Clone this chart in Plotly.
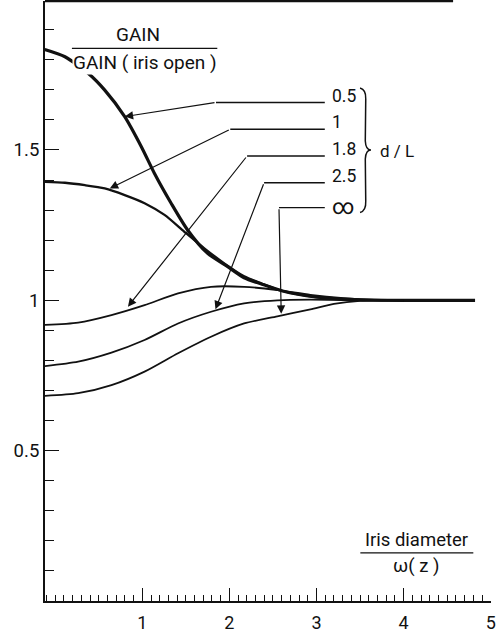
import plotly.graph_objects as go

# ---- data ----
d_over_L = ["0.5", "1", "1.8", "2.5", "∞"]

x_05 = [-0.12, 0.112, 0.378, 0.569, 0.798, 0.989, 1.14, 1.331, 1.52, 1.75, 1.98, 2.169, 2.36, 2.61, 2.99, 3.3, 3.6, 4.0, 4.82]
y_05 = [1.834, 1.81, 1.755, 1.699, 1.611, 1.511, 1.422, 1.323, 1.234, 1.156, 1.112, 1.075, 1.055, 1.031, 1.011, 1.004, 1.001, 1.0, 1.0]

x_1 = [-0.12, 0.112, 0.341, 0.569, 0.798, 1.026, 1.255, 1.483, 1.712, 1.941, 2.169, 2.36, 2.61, 2.99, 3.3, 3.6, 4.0]
y_1 = [1.394, 1.391, 1.383, 1.372, 1.350, 1.323, 1.284, 1.228, 1.173, 1.123, 1.080, 1.057, 1.031, 1.011, 1.004, 1.001, 1.0]

x_18 = [-0.12, 0.264, 0.646, 1.026, 1.41, 1.789, 2.169, 2.55, 2.93, 3.31, 3.655, 4.0]
y_18 = [0.918, 0.926, 0.951, 0.984, 1.023, 1.045, 1.045, 1.034, 1.018, 1.007, 1.001, 1.0]

x_25 = [-0.12, 0.264, 0.646, 1.026, 1.41, 1.789, 2.169, 2.55, 2.93, 3.31, 4.0]
y_25 = [0.781, 0.796, 0.826, 0.868, 0.923, 0.962, 0.990, 1.000, 1.002, 1.001, 1.0]

x_inf = [-0.12, 0.264, 0.646, 1.026, 1.41, 1.789, 2.169, 2.55, 2.93, 3.2, 3.5, 4.0]
y_inf = [0.682, 0.691, 0.718, 0.763, 0.824, 0.879, 0.923, 0.947, 0.970, 0.988, 0.998, 1.0]

x_tick_vals = [1, 2, 3, 4, 5]
y_tick_vals = [0.5, 1, 1.5]
y_tick_text = ["0.5", "1", "1.5"]

FONT = "Roboto, Arial, sans-serif"
INK = "#111111"

fig = go.Figure()
series = [(x_05, y_05, 3.2), (x_1, y_1, 2.3), (x_18, y_18, 1.8), (x_25, y_25, 1.8), (x_inf, y_inf, 1.8)]
for (xs, ys, w), name in zip(series, d_over_L):
    fig.add_trace(go.Scatter(x=xs, y=ys, mode="lines", name=name,
                             line=dict(color=INK, width=w, shape="spline", smoothing=0.7),
                             showlegend=False, hoverinfo="skip"))

# ---- leaders: (head x, head y, corner x, line y, label y) ----
leaders = [
    (0.798, 1.611, 1.846, 1.658, 1.680),
    (0.626, 1.372, 2.01, 1.569, 1.592),
    (0.835, 0.979, 2.203, 1.480, 1.502),
    (1.840, 0.970, 2.398, 1.391, 1.413),
    (2.595, 0.955, 2.569, 1.308, 1.311),
]
LINE_END = 3.095
LABEL_X = 3.15
shapes = []
annotations = []
for (hx, hy, cx, ly, lab_y), lab in zip(leaders, d_over_L):
    shapes.append(dict(type="line", xref="x", yref="y", x0=cx, y0=ly, x1=LINE_END, y1=ly,
                       line=dict(color=INK, width=1.3)))
    annotations.append(dict(x=hx, y=hy, ax=cx, ay=ly, xref="x", yref="y", axref="x", ayref="y",
                            text="", showarrow=True, arrowhead=2, arrowsize=1.4, arrowwidth=1.2,
                            arrowcolor=INK, standoff=0))
    annotations.append(dict(x=LABEL_X, y=lab_y, xref="x", yref="y", text=lab, showarrow=False,
                            xanchor="left", yanchor="middle",
                            font=dict(family=FONT, size=(22 if lab == "∞" else 17.5), color=INK)))

# brace and d/L
shapes.append(dict(type="path", xref="x", yref="y",
                   path="M 3.50,1.706 Q 3.57,1.700 3.565,1.67 L 3.56,1.53 Q 3.565,1.50 3.625,1.50 "
                        "Q 3.565,1.50 3.56,1.47 L 3.565,1.33 Q 3.57,1.298 3.50,1.292",
                   line=dict(color=INK, width=1.5)))
annotations.append(dict(x=3.70, y=1.497, xref="x", yref="y", text="d / L", showarrow=False,
                        xanchor="left", yanchor="middle", font=dict(family=FONT, size=17, color=INK)))

# y-axis title fraction
Y_BAR = 1.838
annotations.append(dict(x=0.946, y=Y_BAR, xref="x", yref="y", text="GAIN", showarrow=False,
                        yanchor="bottom", borderpad=0, yshift=1,
                        font=dict(family=FONT, size=19, color=INK)))
shapes.append(dict(type="line", xref="x", yref="y", x0=0.192, x1=1.861, y0=Y_BAR, y1=Y_BAR,
                   line=dict(color=INK, width=1.4)))
annotations.append(dict(x=1.027, y=Y_BAR, xref="x", yref="y", text="GAIN ( iris open )", showarrow=False,
                        yanchor="top", bgcolor="white", borderpad=0, yshift=-2,
                        font=dict(family=FONT, size=19, color=INK)))

# x-axis title fraction
X_BAR = 0.160
annotations.append(dict(x=4.146, y=X_BAR, xref="x", yref="y", text="Iris diameter", showarrow=False,
                        yanchor="bottom", borderpad=0, yshift=1,
                        font=dict(family=FONT, size=18.5, color=INK)))
shapes.append(dict(type="line", xref="x", yref="y", x0=3.503, x1=4.80, y0=X_BAR, y1=X_BAR,
                   line=dict(color=INK, width=1.4)))
annotations.append(dict(x=4.146, y=X_BAR, xref="x", yref="y", text="ω( z )", showarrow=False,
                        yanchor="top", borderpad=0, yshift=-1,
                        font=dict(family=FONT, size=18.5, color=INK)))

# top frame line (partial)
shapes.append(dict(type="line", xref="paper", yref="paper", x0=0, x1=0.915, y0=1, y1=1,
                   line=dict(color=INK, width=2.5)))

fig.update_layout(
    width=497, height=634,
    margin=dict(l=45, r=4, t=1, b=33),
    paper_bgcolor="white", plot_bgcolor="white",
    shapes=shapes, annotations=annotations,
    font=dict(family=FONT, size=18, color=INK),
    xaxis=dict(range=[-0.117, 5.003], showgrid=False, zeroline=False,
               showline=True, linecolor=INK, linewidth=2,
               tickmode="array", tickvals=x_tick_vals, ticks="inside", ticklen=13, tickwidth=1.3,
               tickcolor=INK, ticklabelstandoff=4, ticklabeloverflow="allow",
               tickfont=dict(family=FONT, size=18, color=INK),
               minor=dict(tickmode="linear", tick0=0, dtick=0.1, ticks="inside", ticklen=6,
                          tickwidth=1, tickcolor=INK, showgrid=False)),
    yaxis=dict(range=[0, 1.9955], showgrid=False, zeroline=False,
               showline=True, linecolor=INK, linewidth=2,
               tickmode="array", tickvals=y_tick_vals, ticktext=y_tick_text,
               ticks="inside", ticklen=14, tickwidth=1.3, tickcolor=INK, ticklabelstandoff=0,
               tickfont=dict(family=FONT, size=18.5, color=INK),
               minor=dict(tickmode="linear", tick0=0, dtick=0.1, ticks="inside", ticklen=9,
                          tickwidth=1, tickcolor=INK, showgrid=False)),
)

fig.write_html("out.html")
